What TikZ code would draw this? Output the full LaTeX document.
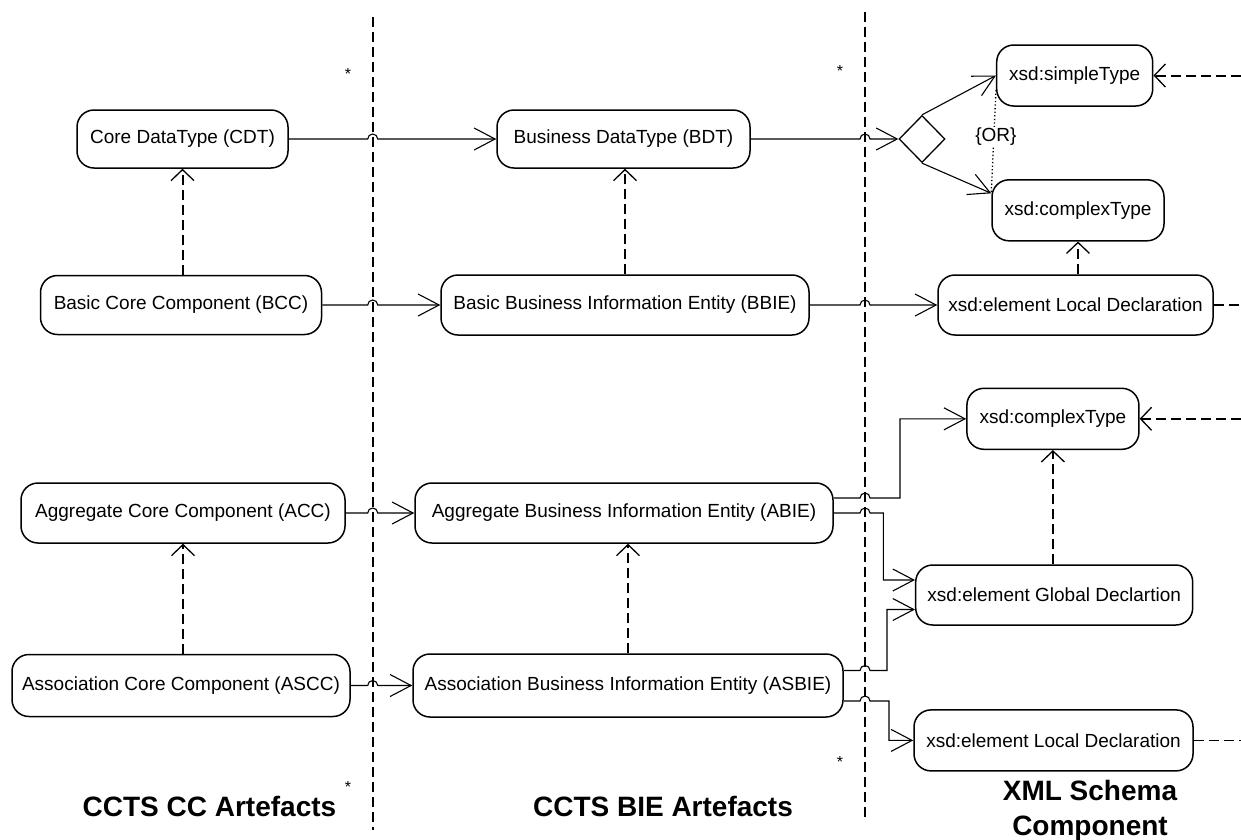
\documentclass[tikz,border=0pt]{standalone}
\usepackage{fontspec}
\setmainfont{Liberation Sans}
\usetikzlibrary{arrows.meta,shapes.geometric,calc}
\begin{document}
\begin{tikzpicture}[x=1pt,y=1pt,
  box/.style={draw, line width=1.5pt, rounded corners=17pt, inner sep=0pt, align=center, font=\fontsize{19}{23}\selectfont},
  sepline/.style={line width=2pt, dash pattern=on 10pt off 5pt},
  conn/.style={line width=1.1pt, -{Straight Barb[length=21pt,width=22pt,line width=1.1pt]}},
  dasharrow/.style={line width=2pt, dash pattern=on 10pt off 5pt, -{Straight Barb[length=11pt,width=23pt,line width=1.3pt]}},
  dline/.style={line width=1.6pt, dash pattern=on 10pt off 5pt},
  heading/.style={font=\fontsize{28}{35}\selectfont\bfseries, align=center, inner sep=0pt},
  star/.style={font=\fontsize{16}{18}\selectfont, inner sep=0pt, anchor=base}
]
\useasboundingbox (0,0) rectangle (1241,-839);

% separators
\coordinate (s1top) at (372.7,-17);
\coordinate (s1bot) at (372.7,-830);
\coordinate (s2top) at (865,-12);
\coordinate (s2bot) at (865,-820);
\draw[sepline] (s1top) -- (s1bot);
\draw[sepline] (s2top) -- (s2bot);

% nodes - CC column
\node[box, minimum width=211pt, minimum height=58pt] (cdt) at (182.5,-139) {Core DataType (CDT)};
\node[box, minimum width=281pt, minimum height=59pt] (bcc) at (181,-305) {Basic Core Component (BCC)};
\node[box, minimum width=324pt, minimum height=60pt] (acc) at (183,-513) {Aggregate Core Component (ACC)};
\node[box, minimum width=338pt, minimum height=62pt] (ascc) at (181,-685.5) {Association Core Component (ASCC)};

% BIE column
\node[box, minimum width=253pt, minimum height=58pt] (bdt) at (623.5,-139) {Business DataType (BDT)};
\node[box, minimum width=368pt, minimum height=60pt] (bbie) at (625,-305) {Basic Business Information Entity (BBIE)};
\node[box, minimum width=418pt, minimum height=60pt] (abie) at (624,-513) {Aggregate Business Information Entity (ABIE)};
\node[box, minimum width=430pt, minimum height=63pt] (asbie) at (628,-685.5) {Association Business Information Entity (ASBIE)};

% XML schema column
\node[box, minimum width=156pt, minimum height=61pt] (simple) at (1074.7,-75.5) {xsd:simpleType};
\node[draw, diamond, line width=1.3pt, minimum width=46pt, minimum height=47pt, inner sep=0pt] (dia) at (922,-139) {};
\node[box, minimum width=172pt, minimum height=61pt] (ctype1) at (1078,-210.3) {xsd:complexType};
\node[box, minimum width=275pt, minimum height=60pt] (local1) at (1075.5,-305) {xsd:element Local Declaration};
\node[box, minimum width=172pt, minimum height=61pt] (ctype2) at (1052.9,-418.8) {xsd:complexType};
\node[box, minimum width=277pt, minimum height=60pt] (global) at (1054.2,-595) {xsd:element Global Declartion};
\node[box, minimum width=279pt, minimum height=61pt] (local2) at (1053.5,-740.4) {xsd:element Local Declaration};

% asterisks
\node[star] (st1) at (348,-79) {*};
\node[star] (st2) at (840,-76) {*};
\node[star] (st3) at (348,-792) {*};
\node[star] (st4) at (840,-767) {*};

% headings
\node[heading] (h1) at (209.5,-806) {CCTS CC Artefacts};
\node[heading] (h2) at (663,-806) {CCTS BIE Artefacts};
\node[heading] (h3) at (1090,-810.5) {XML Schema\\Component};

% right edge coordinates
\coordinate (r1) at (1241,-75.5);
\coordinate (r2) at (1241,-305);
\coordinate (r3) at (1241,-418.8);
\coordinate (r4) at (1241,-740.4);

% bend coordinates
\coordinate (b1) at (900,0);
\coordinate (b2) at (883.3,0);
\coordinate (b3) at (887,0);
\coordinate (b4) at (889,0);

% horizontal connectors with jumps over separator 1
\draw[conn] (cdt.east) -- ($(cdt.east -| s1top)+(-5,0)$) arc[start angle=180,end angle=0,radius=5pt] -- (bdt.west);
\draw[conn] (bcc.east) -- ($(bcc.east -| s1top)+(-5,0)$) arc[start angle=180,end angle=0,radius=5pt] -- (bbie.west);
\draw[conn] (acc.east) -- ($(acc.east -| s1top)+(-5,0)$) arc[start angle=180,end angle=0,radius=5pt] -- (abie.west);
\draw[conn] (ascc.east) -- ($(ascc.east -| s1top)+(-5,0)$) arc[start angle=180,end angle=0,radius=5pt] -- (asbie.west);

% connectors over separator 2
\draw[conn] (bdt.east) -- ($(bdt.east -| s2top)+(-5,0)$) arc[start angle=180,end angle=0,radius=5pt] -- (dia.west);
\draw[conn] (bbie.east) -- ($(bbie.east -| s2top)+(-5,0)$) arc[start angle=180,end angle=0,radius=5pt] -- (local1.west);
\draw[conn] ([yshift=15pt]abie.east) -- ($([yshift=15pt]abie.east -| s2top)+(-5,0)$) arc[start angle=180,end angle=0,radius=5pt] -- ([yshift=15pt]abie.east -| b1) |- (ctype2.west);
\draw[conn] (abie.east) -- ($(abie.east -| s2top)+(-5,0)$) arc[start angle=180,end angle=0,radius=5pt] -- (abie.east -| b2) |- ([yshift=15pt]global.west);
\draw[conn] ([yshift=15pt]asbie.east) -- ($([yshift=15pt]asbie.east -| s2top)+(-5,0)$) arc[start angle=180,end angle=0,radius=5pt] -- ([yshift=15pt]asbie.east -| b3) |- ([yshift=-14.5pt]global.west);
\draw[conn] ([yshift=-15.5pt]asbie.east) -- ($([yshift=-15.5pt]asbie.east -| s2top)+(-5,0)$) arc[start angle=180,end angle=0,radius=5pt] -- ([yshift=-15.5pt]asbie.east -| b4) |- (local2.west);

% diamond branches
\draw[conn] (dia.north) -- (simple.west);
\draw[conn] (dia.south) -- ([yshift=17pt]ctype1.west);
\draw[line width=1.3pt, dash pattern=on 1.3pt off 2.3pt] ([yshift=-14.5pt]simple.west) -- node[pos=0.45, xshift=2pt, fill=white, inner sep=1pt, font=\fontsize{19}{23}\selectfont] (orl) {\{OR\}} ([yshift=17pt]ctype1.west);

% vertical dashed dependencies
\draw[dasharrow] (cdt.south |- bcc.north) -- (cdt.south);
\draw[dasharrow] (bbie.north) -- (bbie.north |- bdt.south);
\draw[dasharrow] (acc.south |- ascc.north) -- (acc.south);
\draw[dasharrow] (asbie.north) -- (asbie.north |- abie.south);
\draw[dasharrow] (ctype1.south |- local1.north) -- (ctype1.south);
\draw[dasharrow] (ctype2.south |- global.north) -- (ctype2.south);

% right edge dashed
\draw[dasharrow] (r1) -- (simple.east);
\draw[dasharrow] (r3) -- (ctype2.east);
\draw[dline] (local1.east) -- (r2);
\draw[dline] (local2.east) -- (r4);
\end{tikzpicture}
\end{document}
